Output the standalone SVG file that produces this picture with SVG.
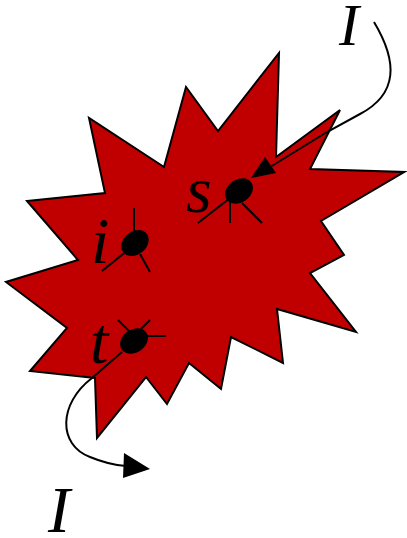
<svg xmlns="http://www.w3.org/2000/svg" width="407" height="538" viewBox="0 0 407 538">
<style>
.lbl{font-family:"Liberation Serif","Times New Roman",serif;font-style:italic;fill:#000}
.ln{stroke:#000;stroke-width:2;fill:none}
.dot{fill:#000}
</style>
<rect width="407" height="538" fill="#fff"/>
<g id="region">
<polygon points="27,201 105,193 89,118 164,167 186,87 218,131 279,53 276,157 340,110 310,169 404,172 321,221 344,255 310,273 356,332 277,309 283,363 231,337 221,389 189,363 167,404 146,377 97,438 95,378 30,371 67,328 6,282 78,260" fill="#c00000" stroke="#000" stroke-width="2" stroke-linejoin="miter"/>
</g>
<g id="node-s">
<line class="ln" x1="198" y1="223" x2="239" y2="191"/>
<line class="ln" x1="230" y1="202" x2="230" y2="223"/>
<line class="ln" x1="242" y1="203" x2="262" y2="223"/>
<ellipse class="dot" cx="239" cy="191" rx="15" ry="11.5" transform="rotate(-35 239 191)"/>
<text class="lbl" x="186" y="212" font-size="66">s</text>
</g>
<g id="node-i">
<line class="ln" x1="134" y1="208" x2="134" y2="232"/>
<line class="ln" x1="102" y1="271" x2="128" y2="250"/>
<line class="ln" x1="140" y1="254" x2="150" y2="272"/>
<ellipse class="dot" cx="135" cy="243" rx="15" ry="11.5" transform="rotate(-40 135 243)"/>
<text class="lbl" x="91" y="263" font-size="66">i</text>
</g>
<g id="node-t">
<line class="ln" x1="118" y1="320" x2="129" y2="331"/>
<line class="ln" x1="150" y1="320" x2="141" y2="329"/>
<line class="ln" x1="146" y1="336" x2="166" y2="336"/>
<ellipse class="dot" cx="134" cy="341" rx="15" ry="11.5" transform="rotate(-35 134 341)"/>
<text class="lbl" x="90" y="363" font-size="66">t</text>
</g>
<g id="label-in">
<text class="lbl" x="339" y="45" font-size="60">I</text>
</g>
<g id="label-out">
<text class="lbl" x="48" y="532" font-size="66">I</text>
</g>
<g id="connectors">
<path class="ln" d="M374,22 C398,62 398,94 360,114 L327,132 L262,172"/>
<polygon class="dot" points="251,178 265,157 276,173"/>
<path class="ln" d="M122,352 L92,378 C58,404 58,445 90,457 C102,462 112,465 126,466"/>
<polygon class="dot" points="150,469 124,453 123,478"/>
</g>
</svg>
